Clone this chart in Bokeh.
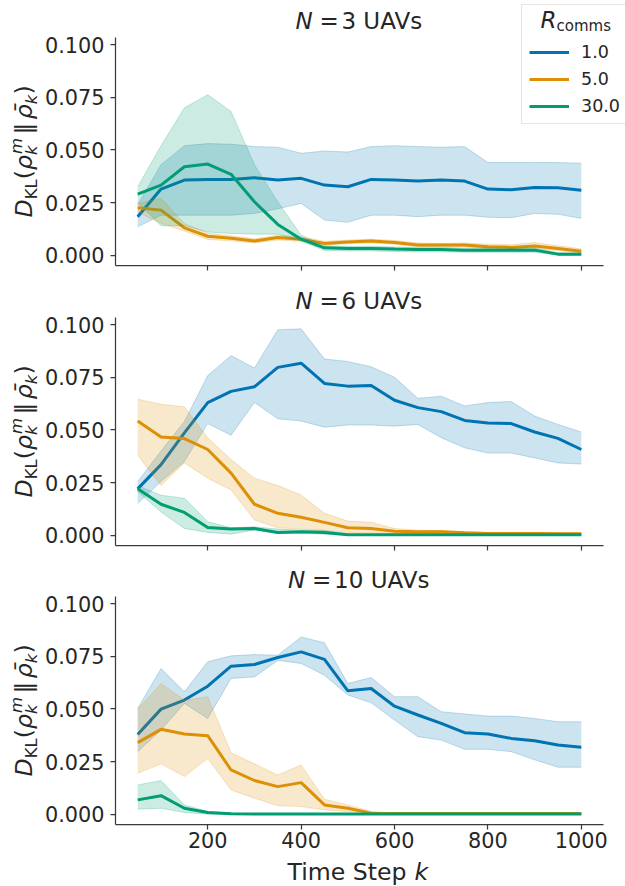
from bokeh.plotting import figure
from bokeh.layouts import column, row
from bokeh.models import Range1d, FixedTicker, PrintfTickFormatter, Label, Legend, LegendItem
from bokeh.embed import file_html
from bokeh.resources import INLINE

# ---------------- data ----------------
time_step = [50, 100, 150, 200, 250, 300, 350, 400, 450, 500,
             550, 600, 650, 700, 750, 800, 850, 900, 950, 1000]
r_comms = ["1.0", "5.0", "30.0"]
uav_counts = [3, 6, 10]
x_ticks = [200, 400, 600, 800, 1000]
y_ticks = [0.0, 0.025, 0.05, 0.075, 0.1]

# N = 3 UAVs
n3_mean_r1 = [0.0183, 0.0314, 0.0357, 0.0360, 0.0360, 0.0368, 0.0357, 0.0365, 0.0333, 0.0325,
              0.0360, 0.0357, 0.0352, 0.0357, 0.0352, 0.0314, 0.0311, 0.0322, 0.0320, 0.0308]
n3_lo_r1 = [0.0135, 0.0190, 0.0190, 0.0190, 0.0190, 0.0198, 0.0220, 0.0246, 0.0167, 0.0156,
            0.0190, 0.0190, 0.0183, 0.0190, 0.0190, 0.0180, 0.0178, 0.0198, 0.0194, 0.0175]
n3_hi_r1 = [0.0240, 0.0430, 0.0520, 0.0530, 0.0527, 0.0516, 0.0513, 0.0484, 0.0495, 0.0490,
            0.0516, 0.0520, 0.0516, 0.0513, 0.0516, 0.0440, 0.0440, 0.0440, 0.0440, 0.0437]
n3_mean_r5 = [0.0225, 0.0214, 0.0130, 0.0090, 0.0080, 0.0067, 0.0084, 0.0076, 0.0056, 0.0063,
              0.0067, 0.0060, 0.0048, 0.0048, 0.0048, 0.0040, 0.0037, 0.0044, 0.0032, 0.0019]
n3_lo_r5 = [0.0205, 0.0150, 0.0115, 0.0075, 0.0068, 0.0058, 0.0072, 0.0066, 0.0048, 0.0055,
            0.0058, 0.0052, 0.0040, 0.0040, 0.0040, 0.0030, 0.0028, 0.0030, 0.0022, 0.0010]
n3_hi_r5 = [0.0245, 0.0270, 0.0150, 0.0105, 0.0092, 0.0078, 0.0095, 0.0088, 0.0066, 0.0072,
            0.0076, 0.0070, 0.0058, 0.0056, 0.0058, 0.0052, 0.0050, 0.0060, 0.0045, 0.0030]
n3_mean_r30 = [0.0290, 0.0333, 0.0420, 0.0433, 0.0384, 0.0254, 0.0146, 0.0076, 0.0035, 0.0032,
               0.0032, 0.0029, 0.0027, 0.0027, 0.0024, 0.0024, 0.0024, 0.0024, 0.0005, 0.0005]
n3_lo_r30 = [0.0250, 0.0140, 0.0140, 0.0110, 0.0103, 0.0100, 0.0100, 0.0067, 0.0022, 0.0020,
             0.0020, 0.0018, 0.0016, 0.0016, 0.0014, 0.0014, 0.0014, 0.0014, 0.0000, 0.0000]
n3_hi_r30 = [0.0325, 0.0520, 0.0700, 0.0762, 0.0683, 0.0430, 0.0254, 0.0095, 0.0045, 0.0042,
             0.0042, 0.0039, 0.0037, 0.0037, 0.0034, 0.0034, 0.0034, 0.0034, 0.0012, 0.0010]

# N = 6 UAVs
n6_mean_r1 = [0.0220, 0.0335, 0.0486, 0.0630, 0.0683, 0.0705, 0.0797, 0.0817, 0.0721, 0.0708,
              0.0711, 0.0641, 0.0606, 0.0587, 0.0545, 0.0533, 0.0530, 0.0490, 0.0460, 0.0407]
n6_lo_r1 = [0.0150, 0.0255, 0.0350, 0.0530, 0.0475, 0.0630, 0.0553, 0.0542, 0.0513, 0.0523,
            0.0523, 0.0518, 0.0526, 0.0463, 0.0415, 0.0390, 0.0390, 0.0367, 0.0343, 0.0338]
n6_hi_r1 = [0.0255, 0.0400, 0.0540, 0.0758, 0.0853, 0.0794, 0.0976, 0.0980, 0.0837, 0.0825,
            0.0800, 0.0750, 0.0650, 0.0660, 0.0614, 0.0630, 0.0635, 0.0566, 0.0526, 0.0490]
n6_mean_r5 = [0.0542, 0.0466, 0.0459, 0.0407, 0.0295, 0.0147, 0.0104, 0.0085, 0.0061, 0.0035,
              0.0032, 0.0019, 0.0016, 0.0016, 0.0011, 0.0008, 0.0008, 0.0008, 0.0007, 0.0007]
n6_lo_r5 = [0.0380, 0.0236, 0.0343, 0.0271, 0.0215, 0.0072, 0.0035, 0.0029, 0.0019, 0.0013,
            0.0010, 0.0008, 0.0006, 0.0006, 0.0005, 0.0004, 0.0004, 0.0004, 0.0003, 0.0003]
n6_hi_r5 = [0.0646, 0.0622, 0.0610, 0.0463, 0.0359, 0.0271, 0.0236, 0.0191, 0.0104, 0.0067,
            0.0061, 0.0032, 0.0024, 0.0022, 0.0016, 0.0013, 0.0013, 0.0013, 0.0013, 0.0013]
n6_mean_r30 = [0.0220, 0.0147, 0.0108, 0.0037, 0.0029, 0.0032, 0.0013, 0.0016, 0.0013, 0.0002,
               0.0002, 0.0002, 0.0002, 0.0002, 0.0002, 0.0002, 0.0002, 0.0002, 0.0002, 0.0002]
n6_lo_r30 = [0.0207, 0.0110, 0.0032, 0.0013, 0.0005, 0.0025, 0.0008, 0.0008, 0.0005, 0.0000,
             0.0000, 0.0000, 0.0000, 0.0000, 0.0000, 0.0000, 0.0000, 0.0000, 0.0000, 0.0000]
n6_hi_r30 = [0.0235, 0.0190, 0.0175, 0.0064, 0.0035, 0.0040, 0.0029, 0.0024, 0.0024, 0.0005,
             0.0005, 0.0005, 0.0005, 0.0005, 0.0005, 0.0005, 0.0005, 0.0005, 0.0005, 0.0005]

# N = 10 UAVs
n10_mean_r1 = [0.0379, 0.0499, 0.0542, 0.0608, 0.0703, 0.0711, 0.0744, 0.0771, 0.0735, 0.0586,
               0.0597, 0.0513, 0.0471, 0.0431, 0.0387, 0.0381, 0.0360, 0.0349, 0.0329, 0.0318]
n10_lo_r1 = [0.0297, 0.0400, 0.0526, 0.0455, 0.0645, 0.0652, 0.0730, 0.0716, 0.0660, 0.0566,
             0.0529, 0.0447, 0.0368, 0.0352, 0.0308, 0.0308, 0.0297, 0.0258, 0.0223, 0.0223]
n10_hi_r1 = [0.0502, 0.0692, 0.0581, 0.0724, 0.0752, 0.0758, 0.0755, 0.0842, 0.0814, 0.0621,
             0.0649, 0.0558, 0.0558, 0.0487, 0.0476, 0.0466, 0.0466, 0.0455, 0.0439, 0.0439]
n10_mean_r5 = [0.0340, 0.0403, 0.0381, 0.0373, 0.0210, 0.0160, 0.0131, 0.0150, 0.0044, 0.0028,
               0.0005, 0.0003, 0.0003, 0.0003, 0.0003, 0.0003, 0.0003, 0.0003, 0.0003, 0.0003]
n10_lo_r5 = [0.0194, 0.0239, 0.0179, 0.0265, 0.0115, 0.0076, 0.0040, 0.0036, 0.0020, 0.0013,
             0.0002, 0.0000, 0.0000, 0.0000, 0.0000, 0.0000, 0.0000, 0.0000, 0.0000, 0.0000]
n10_hi_r5 = [0.0498, 0.0621, 0.0542, 0.0558, 0.0292, 0.0239, 0.0186, 0.0234, 0.0071, 0.0044,
             0.0013, 0.0007, 0.0007, 0.0007, 0.0007, 0.0007, 0.0007, 0.0007, 0.0007, 0.0007]
n10_mean_r30 = [0.0068, 0.0088, 0.0028, 0.0008, 0.0002, 0.0001, 0.0001, 0.0001, 0.0001, 0.0001,
                0.0001, 0.0001, 0.0001, 0.0001, 0.0001, 0.0001, 0.0001, 0.0001, 0.0001, 0.0001]
n10_lo_r30 = [0.0024, 0.0028, 0.0008, 0.0000, 0.0000, 0.0000, 0.0000, 0.0000, 0.0000, 0.0000,
              0.0000, 0.0000, 0.0000, 0.0000, 0.0000, 0.0000, 0.0000, 0.0000, 0.0000, 0.0000]
n10_hi_r30 = [0.0139, 0.0160, 0.0044, 0.0013, 0.0004, 0.0003, 0.0003, 0.0003, 0.0003, 0.0003,
              0.0003, 0.0003, 0.0003, 0.0003, 0.0003, 0.0003, 0.0003, 0.0003, 0.0003, 0.0003]

panels = [
    [(n3_mean_r1, n3_lo_r1, n3_hi_r1), (n3_mean_r5, n3_lo_r5, n3_hi_r5), (n3_mean_r30, n3_lo_r30, n3_hi_r30)],
    [(n6_mean_r1, n6_lo_r1, n6_hi_r1), (n6_mean_r5, n6_lo_r5, n6_hi_r5), (n6_mean_r30, n6_lo_r30, n6_hi_r30)],
    [(n10_mean_r1, n10_lo_r1, n10_hi_r1), (n10_mean_r5, n10_lo_r5, n10_hi_r5), (n10_mean_r30, n10_lo_r30, n10_hi_r30)],
]

# ---------------- style / layout ----------------
COLORS = ["#0173b2", "#de8f05", "#029e73"]
FONT = "DejaVu Sans"
TXT = "#262626"
AXC = "#3a3a3a"
LABEL_W = 40            # strip holding the rotated y labels
PANEL_W = 585           # panel figures (y tick labels + frame)
AXIS_W = 75             # left border for y tick labels -> frame starts at x=115
X_LO, X_HI = 2.5, 1047.5
Y_LO, Y_HI = -0.0049, 0.1034
PX_PER_X = 488 / (X_HI - X_LO)
PX_PER_Y = 228 / (Y_HI - Y_LO)
# (frame height, bottom border): frames reach up to the previous panel's ticks
PANEL_GEOM = [(265, 8), (272, 8), (271, 32)]
TICK_PX = "20.8px"
MAIN = 23.6
SUB = 16.5
HALF_PI = 1.5707963267948966
LIFT = 0.35   # compensates the label baseline offset (fraction of font size)


def add_label(p, text, x, y, size, style="normal", angle=0.0, units="screen", level="annotation"):
    if angle:
        x = x - LIFT * size
    else:
        y = y + LIFT * size
    p.add_layout(Label(x=x, y=y, x_units=units, y_units=units, text=text,
                       angle=angle, text_font=FONT, text_font_style=style,
                       text_font_size=f"{size}px", text_color=TXT, level=level,
                       text_align="left", text_baseline="alphabetic"))


def bare_figure(w, h, xr, yr, left=0):
    p = figure(width=w, height=h, x_range=Range1d(*xr), y_range=Range1d(*yr),
               x_axis_type=None, y_axis_type=None, output_backend="svg",
               toolbar_location=None, title=None, frame_align=False,
               min_border_left=left, min_border_right=0, min_border_top=0, min_border_bottom=0)
    p.outline_line_color = None
    p.xgrid.grid_line_color = None
    p.ygrid.grid_line_color = None
    p.border_fill_color = "white"
    p.background_fill_color = "white"
    return p


def make_panel(i):
    frame_h, bottom = PANEL_GEOM[i]
    x_end = X_LO + (PANEL_W - AXIS_W) / PX_PER_X
    y_end = Y_LO + frame_h / PX_PER_Y
    p = figure(width=PANEL_W, height=frame_h + bottom,
               x_range=Range1d(X_LO, x_end), y_range=Range1d(Y_LO, y_end),
               output_backend="svg", toolbar_location=None, title=None, frame_align=False,
               min_border_left=AXIS_W, min_border_right=0,
               min_border_top=0, min_border_bottom=bottom)
    p.outline_line_color = None
    p.xgrid.grid_line_color = None
    p.ygrid.grid_line_color = None
    p.border_fill_color = "white"
    p.background_fill_color = "white"

    for ax in (p.xaxis[0], p.yaxis[0]):
        ax.axis_line_color = AXC
        ax.axis_line_width = 1.25
        ax.major_tick_line_color = AXC
        ax.major_tick_line_width = 1.25
        ax.major_tick_out = 5
        ax.major_tick_in = 0
        ax.minor_tick_line_color = None
        ax.major_label_text_font = FONT
        ax.major_label_text_font_size = TICK_PX
        ax.major_label_text_color = TXT
    p.xaxis.bounds = (X_LO, X_HI)
    p.yaxis.bounds = (Y_LO, Y_HI)
    p.xaxis.ticker = FixedTicker(ticks=x_ticks)
    p.xaxis.major_label_standoff = 2
    p.yaxis.ticker = FixedTicker(ticks=y_ticks)
    p.yaxis.formatter = PrintfTickFormatter(format="%.3f")
    p.yaxis.major_label_standoff = 6
    if i < 2:
        p.xaxis.major_label_overrides = {t: "" for t in x_ticks}
        p.xaxis.major_label_text_font_size = "0px"
        p.xaxis.major_label_standoff = 0

    line_renderers = []
    for (mean, lo, hi), c in zip(panels[i], COLORS):
        lr = p.line(time_step, mean, line_color=c, line_width=3)
        p.varea(x=time_step, y1=lo, y2=hi, fill_color=c, fill_alpha=0.2)
        p.line(time_step, lo, line_color=c, line_alpha=0.22, line_width=1)
        p.line(time_step, hi, line_color=c, line_alpha=0.22, line_width=1)
        line_renderers.append(lr)

    # panel title "N = n UAVs" (italic N); screen units relative to frame bottom-left
    rest = f"{uav_counts[i]} UAVs"
    rest_w = (0.636 * len(str(uav_counts[i])) + 0.318 + 0.732 + 0.684 + 0.684 + 0.521) * 23
    x0 = 244 - (46 + rest_w) / 2
    ty = 228 + 8
    add_label(p, "N", x0, ty, 23, "italic")
    add_label(p, "=", x0 + 24, ty, 23)
    add_label(p, rest, x0 + 46, ty, 23)

    if i == 0:
        legend = Legend(
            items=[LegendItem(label=lab, renderers=[r]) for lab, r in zip(r_comms, line_renderers)],
            location=(521 - 115, 265 - 124),
            title=" ", title_text_font=FONT, title_text_font_size="23px", title_standoff=4,
            padding=7, spacing=7, margin=0,
            glyph_width=40, glyph_height=20, label_height=20, label_standoff=12,
            label_text_font=FONT, label_text_font_size="17.5px", label_text_color=TXT,
            border_line_color="#cccccc", border_line_width=1,
            background_fill_color="white", background_fill_alpha=0.0,
        )
        p.add_layout(legend, "center")
        add_label(p, "R", 540 - 115, 265 - 28, 23, "italic", level="overlay")
        add_label(p, "comms", 556 - 115, 265 - 31, 15, level="overlay")
    return p


panel_figs = [make_panel(i) for i in range(3)]

# x-axis label strip under the bottom panel (data units = page pixels)
xlab = bare_figure(PANEL_W, 30, (115, 625), (0, 30), left=AXIS_W)
add_label(xlab, "Time Step", 287, 6, MAIN, units="data")
add_label(xlab, "k", 414, 6, MAIN, "italic", units="data")

# rotated y-axis labels  D_KL(rho_k^m || rho-bar_k), one per panel
ylab = bare_figure(LABEL_W, 886, (0, LABEL_W), (0, 886))
pieces = [
    ("D", 0.0, 0, MAIN, "italic"),
    ("KL", 18.2, 5, SUB, "normal"),
    ("(", 38.2, 0, MAIN, "normal"),
    ("ρ", 47.4, 0, MAIN, "italic"),
    ("m", 63.4, -10, SUB, "italic"),
    ("k", 62.4, 5, SUB, "italic"),
    ("‖", 83.0, 0, MAIN, "normal"),
    ("ρ̄", 98.3, 0, MAIN, "italic"),
    ("k", 113.3, 5, SUB, "italic"),
    (")", 122.9, 0, MAIN, "normal"),
]
for center in (151, 431, 710):
    start = 886 - (center + 66)
    for t, along, dx, size, style in pieces:
        add_label(ylab, t, 32 + dx, start + along, size, style, angle=HALF_PI, units="data")

layout = row(ylab, column(*panel_figs, xlab, spacing=0), spacing=0)
open("out.html", "w").write(file_html(layout, INLINE))
